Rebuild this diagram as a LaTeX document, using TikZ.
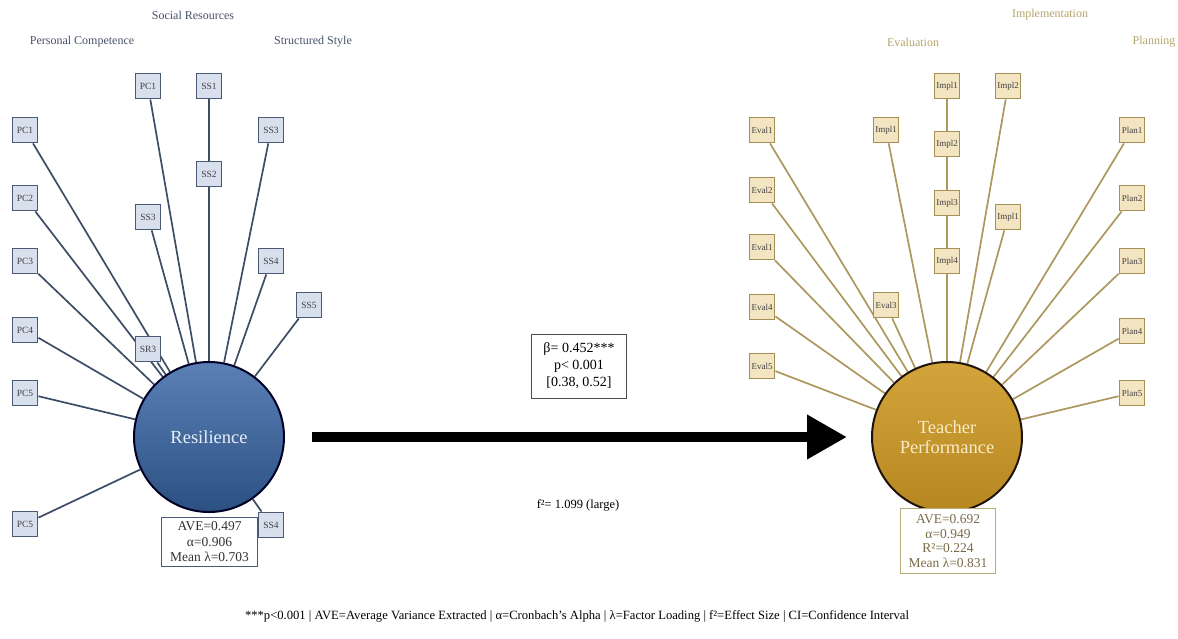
\documentclass[tikz,border=0pt]{standalone}
\usepackage{fontspec}
\setmainfont{Liberation Serif}
\usetikzlibrary{arrows.meta}
\definecolor{lbfill}{HTML}{D8E0EE}
\definecolor{lbdraw}{HTML}{4A5A74}
\definecolor{lbline}{HTML}{3E4D66}
\definecolor{rbfill}{HTML}{F3E5C2}
\definecolor{rbdraw}{HTML}{A68F55}
\definecolor{rbline}{HTML}{AD975E}
\definecolor{ltitle}{HTML}{47516A}
\definecolor{rtitle}{HTML}{B5A46C}
\definecolor{rstat}{HTML}{7A6C48}
\definecolor{rstatdraw}{HTML}{B8AB78}
\pgfdeclarelayer{bg}
\pgfsetlayers{bg,main}
\tikzset{
  lbox/.style={draw=lbdraw, fill=lbfill, line width=1.8pt, minimum size=25pt, inner sep=0pt, font=\fontsize{9.5}{9.5}\selectfont, text=black!75},
  rbox/.style={draw=rbdraw, fill=rbfill, line width=1.8pt, minimum size=25pt, inner sep=0pt, font=\fontsize{9}{9}\selectfont, text=black!75},
  lline/.style={draw=lbline, line width=1.7pt},
  rline/.style={draw=rbline, line width=1.7pt},
  ltit/.style={font=\fontsize{12}{12}\selectfont, text=ltitle},
  rtit/.style={font=\fontsize{12}{12}\selectfont, text=rtitle},
  lstat/.style={draw=lbdraw, line width=1pt, fill=white, align=center, minimum width=96pt, minimum height=49pt, inner sep=1pt, font=\fontsize{13.5}{15.5}\selectfont, text=black!80},
  rstatbox/.style={draw=rstatdraw, line width=1pt, fill=white, align=center, minimum width=95pt, minimum height=65pt, inner sep=1pt, font=\fontsize{13.5}{14.7}\selectfont, text=rstat},
}
\begin{document}
\begin{tikzpicture}[x=1pt,y=-1pt]
\useasboundingbox (0,0) rectangle (1178,638);
% titles
\node[ltit] (t1) at (193,15) {Social Resources};
\node[ltit] (t2) at (82,42) {Personal Competence};
\node[ltit] (t3) at (313,42) {Structured Style};
\node[rtit] (t4) at (1050,15) {Implementation};
\node[rtit] (t5) at (913,42) {Evaluation};
\node[rtit] (t6) at (1154,42) {Planning};
% circles
\node[circle, minimum size=150pt, inner sep=0pt, draw={black!85!blue}, line width=2pt, top color={rgb,255:red,90;green,128;blue,182}, bottom color={rgb,255:red,44;green,80;blue,130}, text={rgb,255:red,232;green,238;blue,248}, font=\fontsize{18.5}{19}\selectfont] (res) at (209,437) {Resilience};
\node[circle, minimum size=150pt, inner sep=0pt, draw={black!85!brown}, line width=2pt, top color={rgb,255:red,212;green,164;blue,60}, bottom color={rgb,255:red,182;green,134;blue,32}, text={rgb,255:red,248;green,236;blue,200}, align=center, font=\fontsize{18.5}{19.5}\selectfont] (tp) at (947,437) {Teacher\\Performance};
% left boxes
\node[lbox] (l1) at (148,86) {PC1};
\node[lbox] (l2) at (209,86) {SS1};
\node[lbox] (l3) at (25,130) {PC1};
\node[lbox] (l4) at (271,130) {SS3};
\node[lbox] (l5) at (209,174) {SS2};
\node[lbox] (l6) at (25,198) {PC2};
\node[lbox] (l7) at (148,217) {SS3};
\node[lbox] (l8) at (25,261) {PC3};
\node[lbox] (l9) at (271,261) {SS4};
\node[lbox] (l10) at (309,305) {SS5};
\node[lbox] (l11) at (25,330) {PC4};
\node[lbox] (l12) at (148,349) {SR3};
\node[lbox] (l13) at (25,393) {PC5};
\node[lbox] (l14) at (25,524) {PC5};
\node[lbox] (l15) at (271,525) {SS4};
% right boxes
\node[rbox] (r1) at (947,86) {Impl1};
\node[rbox] (r2) at (1008,86) {Impl2};
\node[rbox] (r3) at (762,130) {Eval1};
\node[rbox] (r4) at (886,130) {Impl1};
\node[rbox] (r5) at (947,144) {Impl2};
\node[rbox] (r6) at (1132,130) {Plan1};
\node[rbox] (r7) at (762,190) {Eval2};
\node[rbox] (r8) at (1132,198) {Plan2};
\node[rbox] (r9) at (947,203) {Impl3};
\node[rbox] (r10) at (1008,217) {Impl1};
\node[rbox] (r11) at (762,247) {Eval1};
\node[rbox] (r12) at (947,261) {Impl4};
\node[rbox] (r13) at (1132,261) {Plan3};
\node[rbox] (r14) at (762,307) {Eval4};
\node[rbox] (r15) at (886,305) {Eval3};
\node[rbox] (r16) at (1132,331) {Plan4};
\node[rbox] (r17) at (762,366) {Eval5};
\node[rbox] (r18) at (1132,393) {Plan5};
% loadings lines
\begin{pgfonlayer}{bg}
\foreach \i in {1,...,15} {\draw[lline] (l\i) -- (res);}
\foreach \i in {1,...,18} {\draw[rline] (r\i) -- (tp);}
\end{pgfonlayer}
% stats
\node[lstat] (sl) at (209.5,542) {AVE=0.497\\α=0.906\\Mean λ=0.703};
\node[rstatbox] (sr) at (948,541) {AVE=0.692\\α=0.949\\R²=0.224\\Mean λ=0.831};
% path
\draw[line width=10pt, -{Triangle[length=40pt 0 0, width=42pt 0 0]}, shorten <=27pt, shorten >=24pt] (res) -- (tp);
\node[draw=black!70, line width=1pt, align=center, minimum width=95pt, minimum height=64pt, inner sep=1pt, font=\fontsize{14}{17}\selectfont] (beta) at (579,366) {β= 0.452***\\p< 0.001\\{[0.38, 0.52]}};
\node[font=\fontsize{12.5}{13}\selectfont] (f2) at (578,505) {f²= 1.099 (large)};
\node (fn) at (577,616) {\resizebox{664pt}{!}{\fontsize{10}{11}\selectfont ***p<0.001 | AVE=Average Variance Extracted | α=Cronbach's Alpha | λ=Factor Loading | f²=Effect Size | CI=Confidence Interval}};
\end{tikzpicture}
\end{document}
